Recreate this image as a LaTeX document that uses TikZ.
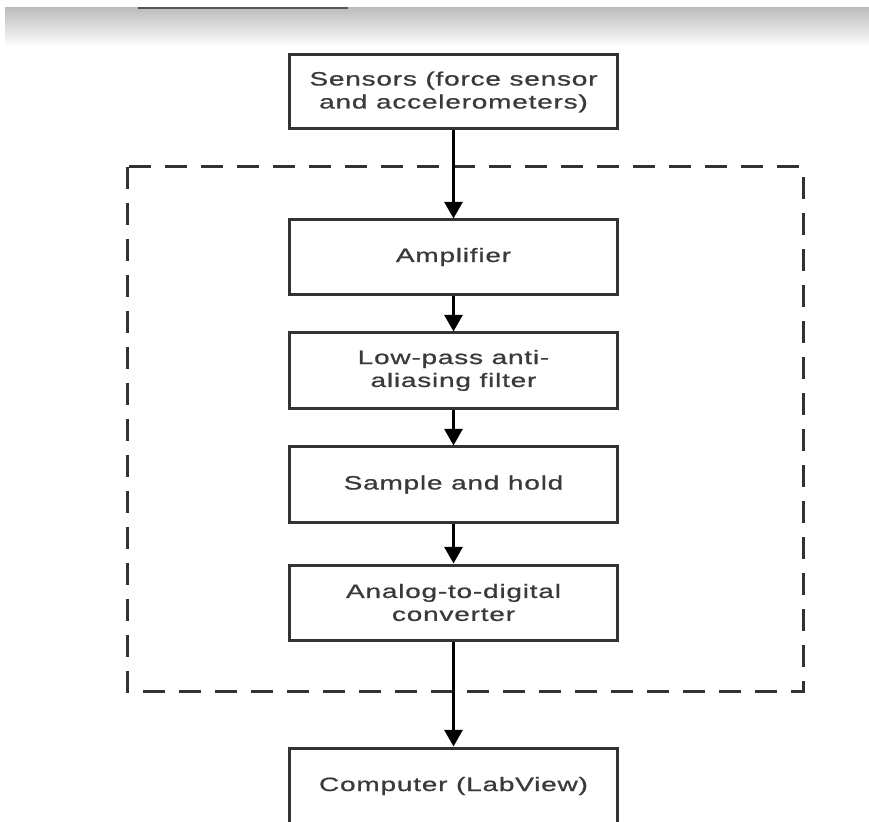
\documentclass[tikz,border=0pt]{standalone}
\usepackage{fontspec}
\setmainfont{Liberation Sans}[FakeStretch=1.45,LetterSpace=4,FakeBold=0.8]
\usetikzlibrary{arrows.meta}
\definecolor{c333333}{RGB}{51,51,51}
\definecolor{c3a3a3a}{RGB}{58,58,58}
\definecolor{cbdbdbd}{RGB}{189,189,189}
\definecolor{c555555}{RGB}{85,85,85}

\tikzset{
  block/.style={draw=c333333, fill=white, line width=0.09cm, minimum width=9.81cm,
    minimum height=2.22cm, align=center, text=c3a3a3a, inner sep=0pt,
    font=\fontsize{16.5}{19.6}\selectfont},
  flow/.style={draw=black, line width=0.09cm,
    -{Triangle[width=0.54cm, length=0.5cm]}},
  frame/.style={draw=c333333, line width=0.09cm, dash pattern=on 0.66cm off 0.42cm}
}

\begin{document}
\begin{tikzpicture}[x=0.03cm, y=-0.03cm]
  \clip (0, 0) rectangle (869, 822);
  \path[fill=white] (0, 0) rectangle (869, 822);

  % shaded band at the top
  \shade[top color=cbdbdbd, bottom color=white] (5, 8) rectangle (869, 47);
  \draw[c555555, line width=0.05cm] (138, 8) -- (348, 8);

  % signal conditioning frame
  \path[frame] (127, 167) rectangle (803, 691);

  \node[block] (sensors) at (453.5, 92) {Sensors (force sensor\\and accelerometers)};
  \node[block] (amp) at (453.5, 257) {Amplifier};
  \node[block, minimum height=2.25cm] (lowpass) at (453.5, 370.5) {Low-pass anti-\\aliasing filter};
  \node[block, minimum height=2.25cm] (hold) at (453.5, 484.5) {Sample and hold};
  \node[block, minimum height=2.25cm] (adc) at (453.5, 602.5) {Analog-to-digital\\converter};
  \node[block, minimum height=2.7cm] (pc) at (453.5, 793) {};
  \node[text=c3a3a3a, font=\fontsize{16.5}{19.6}\selectfont] (pclabel) at (453.5, 786) {Computer (LabView)};

  \draw[flow] (sensors) -- (amp);
  \draw[flow] (amp) -- (lowpass);
  \draw[flow] (lowpass) -- (hold);
  \draw[flow] (hold) -- (adc);
  \draw[flow] (adc) -- (pc);
\end{tikzpicture}
\end{document}
